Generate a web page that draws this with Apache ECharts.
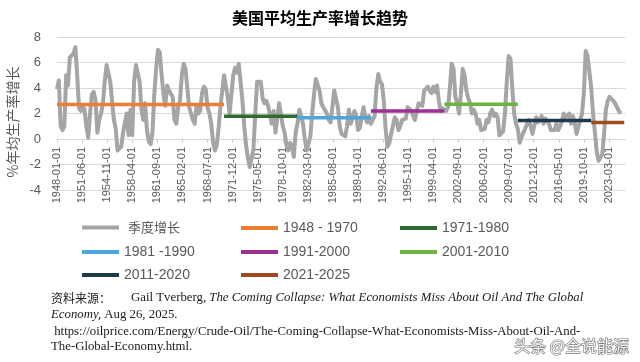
<!DOCTYPE html>
<html>
<head>
<meta charset="utf-8">
<script src="https://cdn.jsdelivr.net/npm/echarts@6/dist/echarts.min.js"></script>
<style>html,body{margin:0;padding:0;background:#fff;}#c{width:640px;height:362px;}</style>
</head>
<body>
<div id="c"></div>
<script>
// ---- Data ----
const titleText = '美国平均生产率增长趋势';
const yAxisName = '%年均生产率增长';
const firstYear = 1948, lastYear = 2025, lastMonth = 6;   // monthly category axis
const quarterlyName = '季度增长';
// quarterly productivity growth (%), 1948Q1 .. 2024Q4
const quarterlyGrowth = [
  3.9, 4.6, 1.0, 0.7,   1.0, 5.0, 4.2, 6.4,   6.5, 6.7, 7.2, 5.0,   2.4, 2.2, 2.6, 2.3,   // 1948-1951
  1.0, 0.1, 2.0, 3.5,   3.7, 3.0, 0.5, 1.5,   2.0, 2.8, 4.5, 5.8,   5.7, 4.5, 3.0, 1.5,   // 1952-1955
  0.8, -0.9, -1.0, -0.6, 0.5, 1.3, 2.0, 0.3,  2.3, 0.3, 4.5, 5.8,   5.7, 4.5, 2.3, 1.5,   // 1956-1959
  2.8, 0.7, -0.2, -0.4, 0.5, 3.5, 5.5, 7.0,   6.8, 5.0, 3.5, 2.6,   4.2, 3.8, 3.9, 3.3,   // 1960-1963
  1.5, 1.2, 2.5, 3.0,   5.0, 5.9, 5.5, 4.0,   2.5, 2.0, 1.5, 1.2,   2.6, 2.0, 2.2, 3.6,   // 1964-1967
  4.1, 3.9, 2.5, 2.0,   1.2, -0.2, -0.9, -0.5, 0.8, 2.5, 2.6, 5.0,  5.1, 3.3, 2.0, 3.5,   // 1968-1971
  5.0, 5.6, 5.2, 5.9,   5.8, 3.0, 1.0, -0.5,  -1.5, -2.2, -2.2, -0.8, 2.0, 4.5, 4.6, 4.5, // 1972-1975
  3.2, 2.8, 3.0, 2.6,   2.5, 1.2, 2.2, 0.5,   0.4, 2.8, 2.7, 1.0,   0.5, -0.5, -0.9, -0.3, // 1976-1979
  -0.6, -1.4, 0.5, 1.2, 2.3, 1.8, 1.2, 0.0,   -0.9, -0.9, 0.2, 2.0, 3.5, 4.7, 4.7, 3.8,   // 1980-1983
  2.8, 2.5, 2.5, 2.0,   1.5, 1.3, 2.5, 3.8,   3.8, 2.5, 1.0, 0.4,   0.3, 0.2, 1.0, 2.3,   // 1984-1987
  1.2, 1.3, 2.2, 1.8,   0.7, 0.9, 1.8, 2.5,   1.6, 1.3, 1.8, 1.2,   1.2, 1.8, 4.0, 5.1,   // 1988-1991
  4.5, 4.3, 3.0, 0.8,   -0.6, -0.3, 0.4, 0.4, 1.7, 1.5, 0.7, 1.0,   1.5, 1.5, 1.6, 2.5,   // 1992-1995
  2.5, 2.2, 1.8, 1.5,   2.2, 2.8, 2.9, 2.6,   3.8, 3.9, 4.1, 3.8,   3.6, 4.1, 3.7, 4.2,   // 1996-1999
  3.0, 2.2, 2.4, 2.5,   2.2, 2.5, 4.0, 5.9,   5.5, 3.3, 2.8, 2.0,   3.5, 5.5, 5.0, 3.8,   // 2000-2003
  3.2, 2.8, 2.0, 2.3,   2.0, 1.2, 1.5, 0.7,   0.7, 0.8, 1.5, 1.3,   2.0, 2.3, 1.8, 2.0,   // 2004-2007
  1.7, 0.3, 0.4, 0.6,   2.0, 4.5, 6.5, 6.3,   4.0, 2.0, 1.2, 0.8,   -0.3, -0.4, 0.5, 0.8, // 2008-2011
  0.9, 1.5, 1.0, 0.4,   0.3, 1.7, 1.3, 1.2,   1.8, 1.2, 1.6, 1.7,   1.2, 0.7, 0.6, 0.7,   // 2012-2015
  1.2, 0.7, 1.0, 1.4,   2.0, 1.7, 1.8, 2.0,   1.2, 1.8, 1.3, 0.4,   0.4, 1.5, 2.0, 3.6,   // 2016-2019
  6.9, 6.5, 6.5, 4.0,   2.0, 0.5, -1.0, -1.7, -1.7, -1.2, 0.4, 2.3, 3.0, 3.3, 3.3, 3.0,   // 2020-2023
  2.8, 2.5, 2.2, 2.0                                                                        // 2024
];
// period averages
const periodNames  = ['1948 - 1970', '1971-1980', '1981 -1990', '1991-2000', '2001-2010', '2011-2020', '2021-2025'];
const periodStart  = ['1948-01-01', '1970-10-01', '1980-10-01', '1990-10-01', '2000-10-01', '2010-10-01', '2020-10-01'];
const periodEnd    = ['1970-10-01', '1980-10-01', '1990-10-01', '2000-10-01', '2010-10-01', '2020-10-01', '2025-04-01'];
const periodValues = [2.7, 1.78, 1.66, 2.2, 2.72, 1.46, 1.3];
const periodColors = ['#ed7d31', '#2f6b31', '#4ea6dc', '#9c2f96', '#6cb245', '#1f3a4a', '#9e4a1e'];
const yMin = -4, yMax = 8, yStep = 2;
const sourceLines = [
  '{cn|资料来源：}{r|Gail Tverberg, }{i|The Coming Collapse: What Economists Miss About Oil And The Global}',
  '{i|Economy,}{r| Aug 26, 2025.}',
  '{r| https://oilprice.com/Energy/Crude-Oil/The-Coming-Collapse-What-Economists-Miss-About-Oil-And-}',
  '{r|The-Global-Economy.html.}'
];
const watermark = '头条 @全说能源';

// ---- Build ----
const categories = [];
for (let y = firstYear; y <= lastYear; y++) {
  for (let m = 1; m <= 12; m++) {
    if (y === lastYear && m > lastMonth) break;
    categories.push(y + '-' + String(m).padStart(2, '0') + '-01');
  }
}
const grayData = quarterlyGrowth.map((v, q) => [categories[q * 3], v]);

const series = [{
  name: quarterlyName, type: 'line', data: grayData, symbol: 'none',
  lineStyle: { color: '#a5a5a5', width: 4, join: 'round' }, itemStyle: { color: '#a5a5a5' }, z: 2
}];
periodNames.forEach((n, i) => {
  series.push({
    name: n, type: 'line', symbol: 'none',
    data: [[periodStart[i], periodValues[i]], [periodEnd[i], periodValues[i]]],
    lineStyle: { color: periodColors[i], width: 3.5 }, itemStyle: { color: periodColors[i] }, z: 3
  });
});

const gridTop = 37, gridBottomPx = 190;
const zeroY = gridTop + (gridBottomPx - gridTop) * (yMax - 0) / (yMax - yMin);

const legendNames = [quarterlyName].concat(periodNames);
const colX = [77, 236, 395], rowY = [216, 240, 263];
const legends = legendNames.map((n, i) => ({
  data: [n], left: colX[i % 3], top: rowY[Math.floor(i / 3)],
  icon: 'rect', itemWidth: 37, itemHeight: 4, selectedMode: false,
  textStyle: { fontSize: i === 0 ? 13 : 14, color: '#595959',
    fontFamily: i === 0 ? 'Noto Sans CJK SC' : 'Liberation Sans',
    padding: i === 0 ? [0, 0, 0, 4] : 0 }
}));

const chart = echarts.init(document.getElementById('c'), null, { renderer: 'canvas' });
chart.setOption({
  animation: false,
  backgroundColor: '#fff',
  title: { text: titleText, left: 'center', top: 5,
    textStyle: { fontSize: 16, fontWeight: 'bold', color: '#000', fontFamily: 'Noto Sans CJK SC' } },
  grid: { left: 57, right: 14.5, top: gridTop, bottom: 362 - gridBottomPx, containLabel: false },
  legend: legends,
  xAxis: {
    type: 'category', data: categories, boundaryGap: false,
    offset: -(gridBottomPx - zeroY),
    axisLine: { onZero: false, lineStyle: { color: '#d9d9d9', width: 1 } },
    axisTick: { show: true, interval: 40, length: 4, lineStyle: { color: '#cfcfcf' } },
    axisLabel: { interval: 40, rotate: 90, fontSize: 11, color: '#595959', margin: 8, fontFamily: 'Liberation Sans' },
    splitLine: { show: false }
  },
  yAxis: {
    type: 'value', min: yMin, max: yMax, interval: yStep,
    axisLine: { show: false }, axisTick: { show: false },
    axisLabel: { fontSize: 13, color: '#595959', margin: 16, fontFamily: 'Liberation Sans' },
    splitLine: { lineStyle: { color: '#d9d9d9', width: 1 } }
  },
  series: series,
  graphic: [
    { type: 'text', x: 13, y: 122, rotation: Math.PI / 2,
      style: { text: yAxisName, fontSize: 14, fill: '#595959', fontFamily: 'Noto Sans CJK SC',
        align: 'center', verticalAlign: 'middle' } },
    ...sourceLines.map((t, i) => ({
      type: 'text', x: 51, y: [298, 315, 332, 347][i],
      style: { text: t, verticalAlign: 'middle', align: 'left', fill: '#1a1a1a',
        rich: {
          cn: { fontFamily: 'Noto Sans CJK SC', fontSize: 12, fill: '#1a1a1a', padding: [0, 20, 0, 0] },
          r: { fontFamily: 'Liberation Serif', fontSize: 12.8, fill: '#1a1a1a' },
          i: { fontFamily: 'Liberation Serif', fontSize: 12.8, fontStyle: 'italic', fill: '#1a1a1a' }
        } }
    })),
    { type: 'text', x: 629, y: 346,
      style: { text: watermark, fontSize: 16, fontFamily: 'Noto Sans CJK SC', fill: '#f4f4f4',
        stroke: '#777', lineWidth: 1.2, align: 'right', verticalAlign: 'middle' } }
  ]
});
</script>
</body>
</html>
